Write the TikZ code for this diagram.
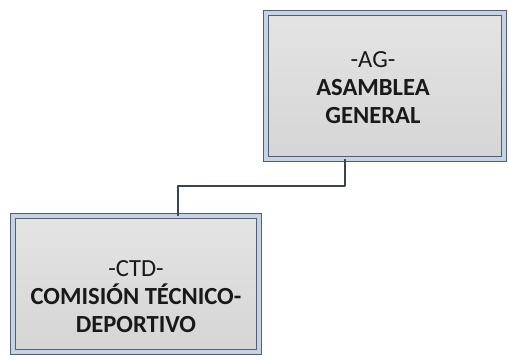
\documentclass[tikz,border=0pt]{standalone}
\usepackage{fontspec}
\setmainfont{Carlito}
\definecolor{marco}{RGB}{84,94,114}
\definecolor{franja}{RGB}{198,211,228}
\definecolor{fondoarriba}{RGB}{228,228,228}
\definecolor{fondoabajo}{RGB}{213,213,213}
\definecolor{linea}{RGB}{58,66,84}
\tikzset{
  organo/.style={draw=marco,double=franja,line width=0.6pt,double distance=2.2pt,
    line join=miter,top color=fondoarriba,bottom color=fondoabajo,inner sep=0pt},
  rotulo/.style={align=center,text=black!90,font=\fontsize{14}{15.9}\selectfont},
  conector/.style={draw=linea,line width=0.7pt}
}
\begin{document}
\begin{tikzpicture}[line cap=round,line join=round]
  \useasboundingbox (0,0) rectangle (10.18,7.2);
  % cajas
  \node[organo,minimum width=4.76cm,minimum height=2.92cm] (ag) at (7.70,5.48) {};
  \node[organo,minimum width=4.92cm,minimum height=2.72cm] (ctd) at (2.72,1.52) {};
  \node[rotulo] (agtxt) at (7.46,5.44) {-AG-\\\textbf{ASAMBLEA}\\\textbf{GENERAL}};
  \node[rotulo] (ctdtxt) at (2.72,1.26) {-CTD-\\\textbf{COMISIÓN TÉCNICO-}\\\textbf{DEPORTIVO}};
  % linea de dependencia
  \coordinate (codoa) at (6.90,3.48);
  \coordinate (codob) at (3.56,3.48);
  \draw[conector] (ag.south -| codoa) -- (codoa) -- (codob) -- (codob |- ctd.north);
\end{tikzpicture}
\end{document}
